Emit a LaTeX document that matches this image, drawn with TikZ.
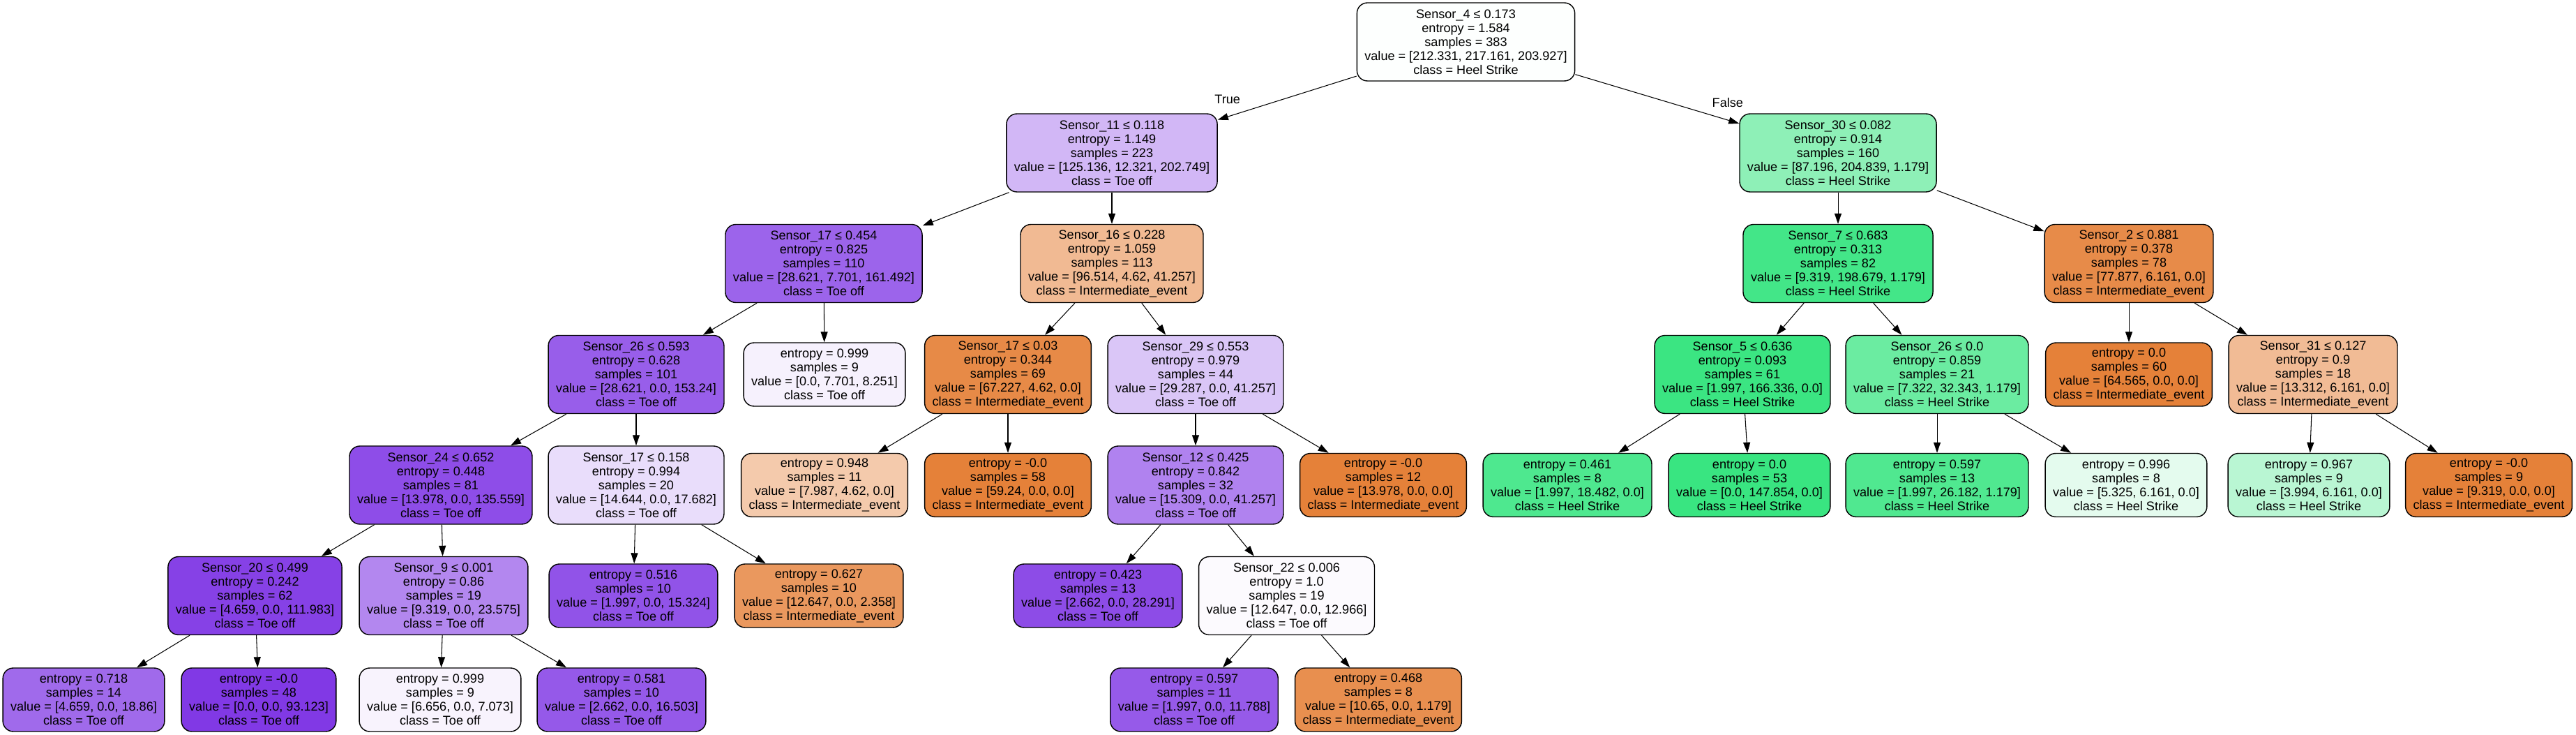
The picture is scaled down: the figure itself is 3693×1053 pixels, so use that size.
\documentclass[tikz,border=0pt]{standalone}
\usepackage{tikz}
\usetikzlibrary{arrows.meta}
\usepackage{fontspec}
\setmainfont{Liberation Sans}

\definecolor{interm}{RGB}{229,129,57}
\definecolor{heel}{RGB}{57,229,129}
\definecolor{toe}{RGB}{129,57,229}
\definecolor{cA}{RGB}{253,255,254}
\definecolor{cB}{RGB}{210,183,246}
\definecolor{cC}{RGB}{142,240,183}
\definecolor{cD}{RGB}{156,100,235}
\definecolor{cE}{RGB}{241,186,147}
\definecolor{cF}{RGB}{67,230,136}
\definecolor{cG}{RGB}{231,139,73}
\definecolor{cH}{RGB}{152,94,234}
\definecolor{cI}{RGB}{246,241,253}
\definecolor{cJ}{RGB}{231,138,71}
\definecolor{cK}{RGB}{218,198,247}
\definecolor{cL}{RGB}{59,229,130}
\definecolor{cM}{RGB}{107,236,161}
\definecolor{cO}{RGB}{241,187,149}
\definecolor{cP}{RGB}{142,77,232}
\definecolor{cQ}{RGB}{233,221,251}
\definecolor{cR}{RGB}{244,202,172}
\definecolor{cT}{RGB}{176,130,239}
\definecolor{cV}{RGB}{78,232,143}
\definecolor{cX}{RGB}{80,232,144}
\definecolor{cY}{RGB}{228,251,238}
\definecolor{cZ}{RGB}{185,246,211}
\definecolor{cb}{RGB}{134,65,230}
\definecolor{cc}{RGB}{179,135,239}
\definecolor{cd}{RGB}{145,83,232}
\definecolor{ce}{RGB}{234,152,94}
\definecolor{cf}{RGB}{141,76,231}
\definecolor{cg}{RGB}{252,250,254}
\definecolor{ch}{RGB}{160,106,235}
\definecolor{cj}{RGB}{248,243,253}
\definecolor{ck}{RGB}{149,89,233}
\definecolor{cl}{RGB}{150,90,233}
\definecolor{cm}{RGB}{232,143,79}

\begin{document}
\begin{tikzpicture}[x=0.02cm,y=-0.02cm,>={Triangle[length=0.3cm,width=0.2cm]},
    split/.style={draw,line width=0.8pt,rounded corners=0.3cm,align=center,
      font=\fontsize{10.3pt}{0.4cm}\selectfont,inner xsep=0.22cm,inner ysep=0.05cm,
      minimum height=2.24cm},
    leaf/.style={split,minimum height=1.82cm},
    lbl/.style={font=\fontsize{10.3pt}{0.4cm}\selectfont,pos=0.93,yshift=0.5cm}]

          \useasboundingbox (0,0) rectangle (3693,1053);

          \node[split,fill=cA]    (A) at (2101.5,60)   {Sensor\_4 ≤ 0.173\\entropy = 1.584\\samples = 383\\value = [212.331, 217.161, 203.927]\\class = Heel Strike};

          \node[split,fill=cB]    (B) at (1594,219)    {Sensor\_11 ≤ 0.118\\entropy = 1.149\\samples = 223\\value = [125.136, 12.321, 202.749]\\class = Toe off};
          \node[split,fill=cC]    (C) at (2635,219)    {Sensor\_30 ≤ 0.082\\entropy = 0.914\\samples = 160\\value = [87.196, 204.839, 1.179]\\class = Heel Strike};

          \node[split,fill=cD]    (D) at (1181,377.5)  {Sensor\_17 ≤ 0.454\\entropy = 0.825\\samples = 110\\value = [28.621, 7.701, 161.492]\\class = Toe off};
          \node[split,fill=cE]    (E) at (1594,377.5)  {Sensor\_16 ≤ 0.228\\entropy = 1.059\\samples = 113\\value = [96.514, 4.62, 41.257]\\class = Intermediate\_event};
          \node[split,fill=cF]    (F) at (2635,377.5)  {Sensor\_7 ≤ 0.683\\entropy = 0.313\\samples = 82\\value = [9.319, 198.679, 1.179]\\class = Heel Strike};
          \node[split,fill=cG]    (G) at (3052,377.5)  {Sensor\_2 ≤ 0.881\\entropy = 0.378\\samples = 78\\value = [77.877, 6.161, 0.0]\\class = Intermediate\_event};

          \node[split,fill=cH]    (H) at (912,536.5)   {Sensor\_26 ≤ 0.593\\entropy = 0.628\\samples = 101\\value = [28.621, 0.0, 153.24]\\class = Toe off};
          \node[leaf,fill=cI]     (I) at (1182,536.5)  {entropy = 0.999\\samples = 9\\value = [0.0, 7.701, 8.251]\\class = Toe off};
          \node[split,fill=cJ]    (J) at (1445,536.5)  {Sensor\_17 ≤ 0.03\\entropy = 0.344\\samples = 69\\value = [67.227, 4.62, 0.0]\\class = Intermediate\_event};
          \node[split,fill=cK]    (K) at (1714,536.5)  {Sensor\_29 ≤ 0.553\\entropy = 0.979\\samples = 44\\value = [29.287, 0.0, 41.257]\\class = Toe off};
          \node[split,fill=cL]    (L) at (2498,536.5)  {Sensor\_5 ≤ 0.636\\entropy = 0.093\\samples = 61\\value = [1.997, 166.336, 0.0]\\class = Heel Strike};
          \node[split,fill=cM]    (M) at (2777,536.5)  {Sensor\_26 ≤ 0.0\\entropy = 0.859\\samples = 21\\value = [7.322, 32.343, 1.179]\\class = Heel Strike};
          \node[leaf,fill=interm] (N) at (3052,536.5)  {entropy = 0.0\\samples = 60\\value = [64.565, 0.0, 0.0]\\class = Intermediate\_event};
          \node[split,fill=cO]    (O) at (3316,536.5)  {Sensor\_31 ≤ 0.127\\entropy = 0.9\\samples = 18\\value = [13.312, 6.161, 0.0]\\class = Intermediate\_event};

          \node[split,fill=cP]    (P) at (632,695)     {Sensor\_24 ≤ 0.652\\entropy = 0.448\\samples = 81\\value = [13.978, 0.0, 135.559]\\class = Toe off};
          \node[split,fill=cQ]    (Q) at (912,695)     {Sensor\_17 ≤ 0.158\\entropy = 0.994\\samples = 20\\value = [14.644, 0.0, 17.682]\\class = Toe off};
          \node[leaf,fill=cR]     (R) at (1182,695)    {entropy = 0.948\\samples = 11\\value = [7.987, 4.62, 0.0]\\class = Intermediate\_event};
          \node[leaf,fill=interm] (S) at (1445,695)    {entropy = -0.0\\samples = 58\\value = [59.24, 0.0, 0.0]\\class = Intermediate\_event};
          \node[split,fill=cT]    (T) at (1714,695)    {Sensor\_12 ≤ 0.425\\entropy = 0.842\\samples = 32\\value = [15.309, 0.0, 41.257]\\class = Toe off};
          \node[leaf,fill=interm] (U) at (1983,695)    {entropy = -0.0\\samples = 12\\value = [13.978, 0.0, 0.0]\\class = Intermediate\_event};
          \node[leaf,fill=cV]     (V) at (2247,695)    {entropy = 0.461\\samples = 8\\value = [1.997, 18.482, 0.0]\\class = Heel Strike};
          \node[leaf,fill=heel]   (W) at (2508,695)    {entropy = 0.0\\samples = 53\\value = [0.0, 147.854, 0.0]\\class = Heel Strike};
          \node[leaf,fill=cX]     (X) at (2777,695)    {entropy = 0.597\\samples = 13\\value = [1.997, 26.182, 1.179]\\class = Heel Strike};
          \node[leaf,fill=cY]     (Y) at (3048,695)    {entropy = 0.996\\samples = 8\\value = [5.325, 6.161, 0.0]\\class = Heel Strike};
          \node[leaf,fill=cZ]     (Z) at (3310,695)    {entropy = 0.967\\samples = 9\\value = [3.994, 6.161, 0.0]\\class = Heel Strike};
          \node[leaf,fill=interm] (a) at (3568,695)    {entropy = -0.0\\samples = 9\\value = [9.319, 0.0, 0.0]\\class = Intermediate\_event};

          \node[split,fill=cb]    (b) at (365.5,853.5) {Sensor\_20 ≤ 0.499\\entropy = 0.242\\samples = 62\\value = [4.659, 0.0, 111.983]\\class = Toe off};
          \node[split,fill=cc]    (c) at (636,853.5)   {Sensor\_9 ≤ 0.001\\entropy = 0.86\\samples = 19\\value = [9.319, 0.0, 23.575]\\class = Toe off};
          \node[leaf,fill=cd]     (d) at (908,853.5)   {entropy = 0.516\\samples = 10\\value = [1.997, 0.0, 15.324]\\class = Toe off};
          \node[leaf,fill=ce]     (e) at (1174,853.5)  {entropy = 0.627\\samples = 10\\value = [12.647, 0.0, 2.358]\\class = Intermediate\_event};
          \node[leaf,fill=cf]     (f) at (1574,853.5)  {entropy = 0.423\\samples = 13\\value = [2.662, 0.0, 28.291]\\class = Toe off};
          \node[split,fill=cg]    (g) at (1844.5,853.5){Sensor\_22 ≤ 0.006\\entropy = 1.0\\samples = 19\\value = [12.647, 0.0, 12.966]\\class = Toe off};

          \node[leaf,fill=ch]     (h) at (120,1002.5)  {entropy = 0.718\\samples = 14\\value = [4.659, 0.0, 18.86]\\class = Toe off};
          \node[leaf,fill=toe]    (i) at (371,1002.5)  {entropy = -0.0\\samples = 48\\value = [0.0, 0.0, 93.123]\\class = Toe off};
          \node[leaf,fill=cj]     (j) at (631,1002.5)  {entropy = 0.999\\samples = 9\\value = [6.656, 0.0, 7.073]\\class = Toe off};
          \node[leaf,fill=ck]     (k) at (891,1002.5)  {entropy = 0.581\\samples = 10\\value = [2.662, 0.0, 16.503]\\class = Toe off};
          \node[leaf,fill=cl]     (l) at (1712,1002.5) {entropy = 0.597\\samples = 11\\value = [1.997, 0.0, 11.788]\\class = Toe off};
          \node[leaf,fill=cm]     (m) at (1976,1002.5) {entropy = 0.468\\samples = 8\\value = [10.65, 0.0, 1.179]\\class = Intermediate\_event};

          \path[->,line width=0.6pt]
                    (A) edge node [lbl] {True}  (B)
                        edge node [lbl] {False} (C)
                    (B) edge (D)  edge (E)
                    (C) edge (F)  edge (G)
                    (D) edge (H)  edge (I)
                    (E) edge (J)  edge (K)
                    (F) edge (L)  edge (M)
                    (G) edge (N)  edge (O)
                    (H) edge (P)  edge (Q)
                    (J) edge (R)  edge (S)
                    (K) edge (T)  edge (U)
                    (L) edge (V)  edge (W)
                    (M) edge (X)  edge (Y)
                    (O) edge (Z)  edge (a)
                    (P) edge (b)  edge (c)
                    (Q) edge (d)  edge (e)
                    (T) edge (f)  edge (g)
                    (b) edge (h)  edge (i)
                    (c) edge (j)  edge (k)
                    (g) edge (l)  edge (m);
        \end{tikzpicture}
\end{document}
